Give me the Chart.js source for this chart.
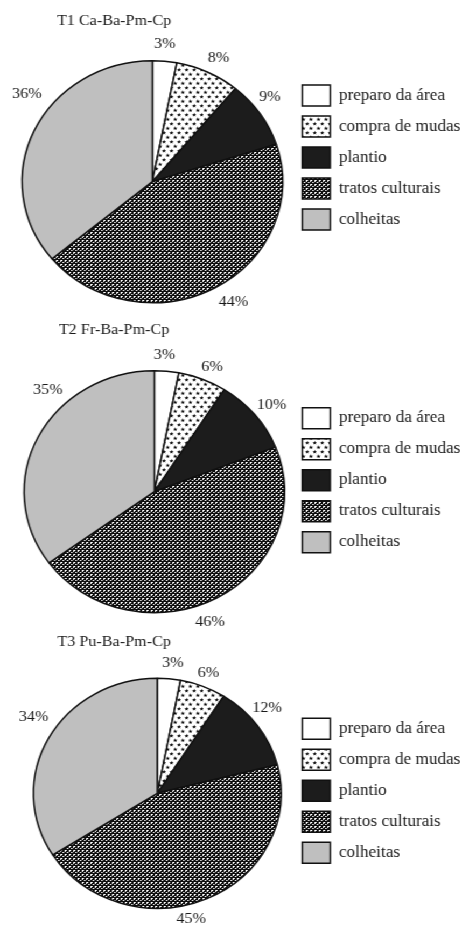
<!DOCTYPE html>
<html><head><meta charset="utf-8">
<script src="https://cdn.jsdelivr.net/npm/chart.js@4.4.1/dist/chart.umd.min.js"></script>
<style>
html,body{margin:0;padding:0;background:#fff;overflow:hidden;width:460px;height:926px;}
#wrap{width:440px;transform:scaleX(1.077);transform-origin:0 0;}
.box{position:relative;width:440px;}
</style></head><body>
<div id="wrap">
<div class="box" style="height:310px"><canvas id="c1"></canvas></div>
<div class="box" style="height:320px"><canvas id="c2"></canvas></div>
<div class="box" style="height:296px"><canvas id="c3"></canvas></div>
</div>
<script>
const categories = ['preparo da área', 'compra de mudas', 'plantio', 'tratos culturais', 'colheitas'];
const valuesT1 = [3, 8, 9, 44, 36];
const valuesT2 = [3, 6, 10, 46, 35];
const valuesT3 = [3, 6, 12, 45, 34];
const chartTitles = ['T1 Ca-Ba-Pm-Cp', 'T2 Fr-Ba-Pm-Cp', 'T3 Pu-Ba-Pm-Cp'];

function starPattern() {
  const c = document.createElement('canvas');
  c.width = 7; c.height = 9;
  const g = c.getContext('2d');
  g.fillStyle = '#fff'; g.fillRect(0, 0, 7, 9);
  g.fillStyle = '#000';
  const star = (cx, cy) => {
    g.beginPath();
    for (let k = 0; k < 10; k++) {
      const r = k % 2 ? 0.9 : 2.1;
      const a = -Math.PI / 2 + k * Math.PI / 5;
      g.lineTo(cx + Math.cos(a) * r, cy + Math.sin(a) * r);
    }
    g.closePath(); g.fill();
  };
  star(1.75, 2.4); star(5.25, 6.9);
  return g.createPattern(c, 'repeat');
}
function weavePattern() {
  const c = document.createElement('canvas');
  c.width = 4; c.height = 4;
  const g = c.getContext('2d');
  g.fillStyle = '#0d0d0d'; g.fillRect(0, 0, 4, 4);
  g.fillStyle = '#fff';
  g.fillRect(0, 0, 2, 1); g.fillRect(0, 1, 1, 1);
  g.fillRect(2, 2, 1, 1);
  g.fillStyle = '#777';
  g.fillRect(3, 2, 1, 1);
  return g.createPattern(c, 'repeat');
}

const pieText = {
  id: 'pieText',
  afterDraw(chart, args, opts) {
    const ctx = chart.ctx;
    const meta = chart.getDatasetMeta(0);
    const vals = chart.data.datasets[0].data;
    ctx.save();
    ctx.font = '15px "Liberation Serif"';
    ctx.fillStyle = '#1a1a1a';
    ctx.textAlign = 'center';
    ctx.textBaseline = 'middle';
    meta.data.forEach((arc, i) => {
      const p = arc.getProps(['x', 'y', 'startAngle', 'endAngle', 'outerRadius'], true);
      const mid = (p.startAngle + p.endAngle) / 2 + opts.nudgeAngle[i] * Math.PI / 180;
      const r = p.outerRadius + opts.nudgeOffset[i];
      ctx.fillText(vals[i] + '%', p.x + Math.cos(mid) * r, p.y + Math.sin(mid) * r);
    });
    ctx.fillText(opts.title, opts.titleX, opts.titleY);
    ctx.restore();
  }
};

function makeChart(id, values, title, pad, radius, titleY, nudgeAngle, nudgeOffset) {
  const fills = ['#ffffff', starPattern(), '#1c1c1c', weavePattern(), '#bfbfbf'];
  return new Chart(document.getElementById(id), {
    type: 'pie',
    data: {
      labels: categories,
      datasets: [{
        data: values,
        backgroundColor: fills,
        borderColor: '#111',
        borderWidth: 1.5,
        radius: radius
      }]
    },
    plugins: [pieText],
    options: {
      responsive: true,
      maintainAspectRatio: false,
      animation: false,
      events: [],
      layout: { padding: pad },
      plugins: {
        tooltip: { enabled: false },
        title: { display: false },
        legend: {
          display: true,
          position: 'right',
          align: 'start',
          labels: {
            boxWidth: 26,
            boxHeight: 21,
            padding: 10,
            color: '#1a1a1a',
            font: { family: 'Liberation Serif', size: 16 }
          }
        },
        pieText: { title: title, titleX: 106, titleY: titleY, nudgeAngle: nudgeAngle, nudgeOffset: nudgeOffset }
      }
    }
  });
}

makeChart('c1', valuesT1, chartTitles[0], { top: 75, bottom: 21.6, left: 12.3, right: 2.5 }, 121, 21,
  [-0.6, 1.3, -3.6, -3.2, 11.8], [17, 17, 17, 21, 25]);
makeChart('c2', valuesT2, chartTitles[1], { top: 87.7, bottom: 44.3, left: 16.1, right: 2.5 }, 121, 20,
  [-1.5, 1.6, 1.1, 7.2, 18.8], [16, 15, 18, 19, 21]);
makeChart('c3', valuesT3, chartTitles[2], { top: 78.3, bottom: 47.7, left: 21.5, right: 2.5 }, 115, 11.7,
  [0.9, 0, -4, 9.4, 4.8], [16, 14, 18, 15, 23]);
</script>
</body></html>
